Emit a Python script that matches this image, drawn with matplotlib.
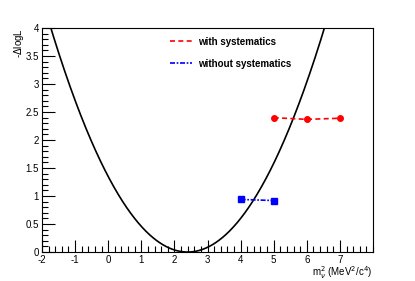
import numpy as np
import matplotlib
matplotlib.use("Agg")
import matplotlib.pyplot as plt
from matplotlib.ticker import MultipleLocator

# data
m0 = 2.40
sigma = 1.46
x_with = [5, 6, 7]
y_with = [2.40, 2.37, 2.39]
x_without = [4, 5]
y_without = [0.94, 0.92]

plt.rcParams['font.family'] = ['Liberation Sans', 'DejaVu Sans']
plt.rcParams['axes.unicode_minus'] = False

fig = plt.figure(figsize=(4.15, 2.81), dpi=100)
ax = fig.add_axes([0.101, 0.103, 0.798, 0.797])

xs = np.linspace(-2, 8, 600)
ys = (xs - m0) ** 2 / (2 * sigma ** 2)
ax.plot(xs, ys, color='black', lw=1.2)

ax.plot(x_with, y_with, color='red', ls=(0, (3, 2)), lw=1.2, marker='o', ms=4,
        label='with systematics')
ax.plot(x_without, y_without, color='blue', ls=(0, (3, 1, 1, 1)), lw=1.2, marker='s', ms=4,
        label='without systematics')

ax.set_xlim(-2, 8)
ax.set_ylim(0, 4)
ax.xaxis.set_minor_locator(MultipleLocator(0.2))
ax.yaxis.set_minor_locator(MultipleLocator(0.1))
ax.set_xticks([-2, -1, 0, 1, 2, 3, 4, 5, 6, 7])
ax.set_xticklabels(['-2', '-1', '0', '1', '2', '3', '4', '5', '6', '7'])
ax.set_yticks([0, 0.5, 1, 1.5, 2, 2.5, 3, 3.5, 4])
ax.set_yticklabels(['0', '0.5', '1', '1.5', '2', '2.5', '3', '3.5', '4'])
ax.tick_params(which='both', direction='in', top=False, right=False, labelsize=7, pad=2)
ax.tick_params(which='major', length=9, width=0.8)
ax.tick_params(which='minor', length=4.5, width=0.8)
for s in ax.spines.values():
    s.set_linewidth(0.8)

ax.text(-0.068, 1.0, r'-$\Delta$logL', transform=ax.transAxes, rotation=90,
        ha='center', va='top', fontsize=7)
ax.text(1.0, -0.052, r'm$_{\nu}^{2}$ (MeV$^{2}$/c$^{4}$)', transform=ax.transAxes,
        ha='right', va='top', fontsize=7)

leg = ax.legend(loc='upper left', bbox_to_anchor=(0.36, 1.0), frameon=False,
                handlelength=2.3, labelspacing=1.2, handletextpad=0.6,
                prop={'weight': 'bold', 'size': 7})
for h in leg.legend_handles:
    h.set_marker('')

fig.savefig('out.png', dpi=100)
